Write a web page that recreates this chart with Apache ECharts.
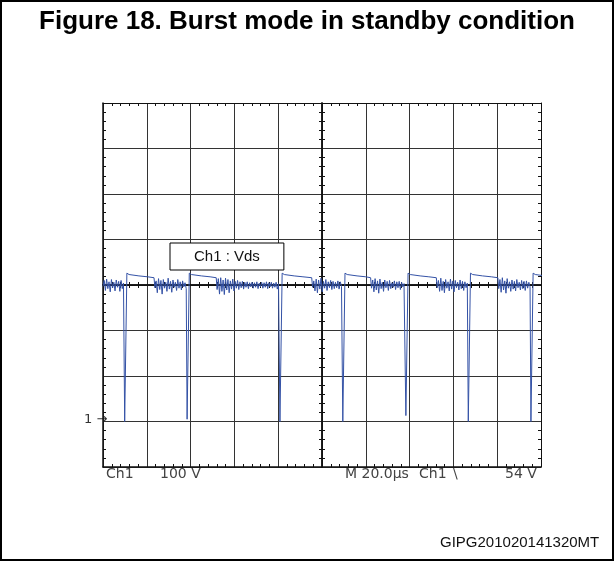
<!DOCTYPE html>
<html>
<head>
<meta charset="UTF-8">
<title>Burst mode in standby condition</title>
<script src="https://cdn.jsdelivr.net/npm/echarts@6/dist/echarts.min.js"></script>
<style>
	html, body { margin: 0; padding: 0; background: #fff; }
	#main { width: 614px; height: 561px; }
</style>
</head>
<body>
<div id="main"></div>
<script>
	// time in us (M 20.0us/div, 10 div), Vds in V (100 V/div, ground marker "1" at 0 V)
	var timeRange = [0, 200];
	var voltRange = [-100, 700];

	// switching spikes: time and how far down they reach
	var spikeTimes = [10.4, 38.9, 81.3, 110.0, 138.8, 167.3, 195.9];
	var spikeLows = [0, 5, 0, 0, 13, 0, 0];

	// ringing between bursts, sampled every noiseStep us from each start
	var noiseStarts = [0, 23.7, 52.1, 95.7, 122.6, 152.6, 180.7];
	var noiseStep = 0.55;
	var noise1 = [297, 310, 288, 313, 292, 307, 285, 312, 294, 306, 287, 311, 295, 308, 286, 310, 292, 304];
	var noise2 = [294, 309, 283, 314, 290, 310, 280, 312, 293, 306, 286, 315, 291, 308, 284, 311, 295, 306, 288, 312, 293, 307, 289, 309, 296, 305, 292];
	var noise3 = [290, 314, 280, 316, 286, 311, 279, 315, 289, 312, 283, 309, 291, 313, 287, 308, 293, 310, 290, 307, 294, 308, 291, 306, 295, 307, 292, 305, 296, 306, 293, 305, 295, 307, 292, 304, 296, 306, 293, 305, 295, 307, 292, 305, 296, 306, 293, 304, 295, 306, 291, 303];
	var noise4 = [295, 309, 287, 313, 283, 311, 291, 315, 285, 308, 293, 312, 288, 307, 294, 310, 290, 308, 292, 306, 294, 309, 291, 307, 297];
	var noise5 = [293, 311, 285, 314, 289, 309, 282, 313, 292, 306, 286, 311, 294, 308, 288, 310, 292, 305, 295, 309, 290, 307, 294, 308, 290, 306, 296, 303];
	var noise6 = [294, 310, 286, 315, 288, 308, 283, 312, 293, 307, 287, 313, 291, 309, 285, 310, 294, 306, 289, 311, 292, 308, 288, 307, 294, 304];
	var noise7 = [292, 312, 284, 316, 289, 309, 282, 314, 293, 307, 286, 311, 291, 308, 287, 312, 294, 306, 289, 310, 292, 308, 288, 309, 293, 306, 296];
	var noise = [noise1, noise2, noise3, noise4, noise5, noise6, noise7];

	// plateau after each spike: [us after spike, V], then level just before ringing
	var plateau = [[0.5, 326], [1.5, 323], [6, 320], [10, 318]];
	var plateauEnd = 316;

	var trace = [];
	for (var k = 0; k < spikeTimes.length; k++) {
		var nz = noise[k];
		for (var i = 0; i < nz.length; i++) {
			trace.push([noiseStarts[k] + i * noiseStep, nz[i]]);
		}
		var s = spikeTimes[k];
		trace.push([s - 0.5, spikeLows[k]]);
		trace.push([s + 0.4, spikeLows[k]]);
		for (var j = 0; j < plateau.length; j++) {
			trace.push([s + plateau[j][0], plateau[j][1]]);
		}
		var next = noiseStarts[k + 1];
		trace.push([next !== undefined ? next - 0.4 : s + 14, plateauEnd]);
	}

	var gridL = 103, gridT = 103, gridW = 438, gridH = 364;
	var ink = '#111';

	function xAx(pos, offset, inside, line, split) {
		return {
			type: 'value', min: timeRange[0], max: timeRange[1], interval: 20,
			position: pos, offset: offset,
			axisLine: { show: true, onZero: false, lineStyle: { color: ink, width: line } },
			axisTick: { show: false, inside: inside },
			minorTick: { show: true, splitNumber: 5, length: 3, lineStyle: { color: ink, width: 1 } },
			axisLabel: { show: false },
			splitLine: { show: split, lineStyle: { color: '#333', width: 1 } }
		};
	}
	function yAx(pos, offset, inside, line, split) {
		return {
			type: 'value', min: voltRange[0], max: voltRange[1], interval: 100,
			position: pos, offset: offset,
			axisLine: { show: true, onZero: false, lineStyle: { color: ink, width: line } },
			axisTick: { show: false, inside: inside },
			minorTick: { show: true, splitNumber: 5, length: 3, lineStyle: { color: ink, width: 1 } },
			axisLabel: { show: false },
			splitLine: { show: split, lineStyle: { color: '#333', width: 1 } }
		};
	}

	var myChart = echarts.init(document.getElementById('main'));
	var option = {
		animation: false,
		backgroundColor: '#fff',
		title: {
			text: 'Figure 18. Burst mode in standby condition',
			left: 'center',
			top: 4,
			textStyle: { fontFamily: 'Liberation Sans', fontWeight: 'bold', fontSize: 26, color: '#000' }
		},
		legend: {
			data: ['Ch1 : Vds'],
			left: 170, top: 243,
			icon: 'none', itemWidth: 0, itemHeight: 15,
			padding: [6, 24, 6, 19],
			backgroundColor: '#fff',
			borderColor: '#000', borderWidth: 1, borderRadius: 0,
			textStyle: { fontFamily: 'Liberation Sans', fontSize: 15, color: '#111' }
		},
		grid: { left: gridL, top: gridT, width: gridW, height: gridH, show: false },
		xAxis: [
			xAx('bottom', 0, true, 1.5, true),
			xAx('top', 0, true, 1, false),
			xAx('bottom', -gridH / 2, true, 1.5, false),
			xAx('bottom', -gridH / 2, false, 1.5, false)
		],
		yAxis: [
			yAx('left', 0, true, 1.5, true),
			yAx('right', 0, true, 1, false),
			yAx('left', -gridW / 2, true, 1.5, false),
			yAx('left', -gridW / 2, false, 1.5, false)
		],
		series: [{
			name: 'Ch1 : Vds',
			type: 'line',
			xAxisIndex: 0,
			yAxisIndex: 0,
			showSymbol: false,
			symbol: 'none',
			clip: true,
			z: 5,
			color: '#3452a6',
			lineStyle: { width: 1, color: '#3452a6' },
			data: trace
		}],
		graphic: [
			{ type: 'rect', shape: { x: 1, y: 1, width: 612, height: 559 }, style: { fill: 'none', stroke: '#000', lineWidth: 2 } },
			{ type: 'text', left: 84, top: 413, style: { text: '1 \u2192', font: '13px "DejaVu Sans"', fill: '#333' } },
			{ type: 'text', left: 106, top: 467, style: { text: 'Ch1', font: '14px "DejaVu Sans"', fill: '#444' } },
			{ type: 'text', left: 160, top: 467, style: { text: '100 V', font: '14px "DejaVu Sans"', fill: '#444' } },
			{ type: 'text', left: 345, top: 467, style: { text: 'M 20.0\u00b5s', font: '14px "DejaVu Sans"', fill: '#444' } },
			{ type: 'text', left: 419, top: 467, style: { text: 'Ch1', font: '14px "DejaVu Sans"', fill: '#444' } },
			{ type: 'text', left: 453, top: 467, style: { text: '\\', font: '14px "DejaVu Sans"', fill: '#444' } },
			{ type: 'text', left: 505, top: 467, style: { text: '54 V', font: '14px "DejaVu Sans"', fill: '#444' } },
			{ type: 'text', left: 440, top: 535, style: { text: 'GIPG201020141320MT', font: '15px "Liberation Sans"', fill: '#111' } }
		]
	};
	myChart.setOption(option);
</script>
</body>
</html>
